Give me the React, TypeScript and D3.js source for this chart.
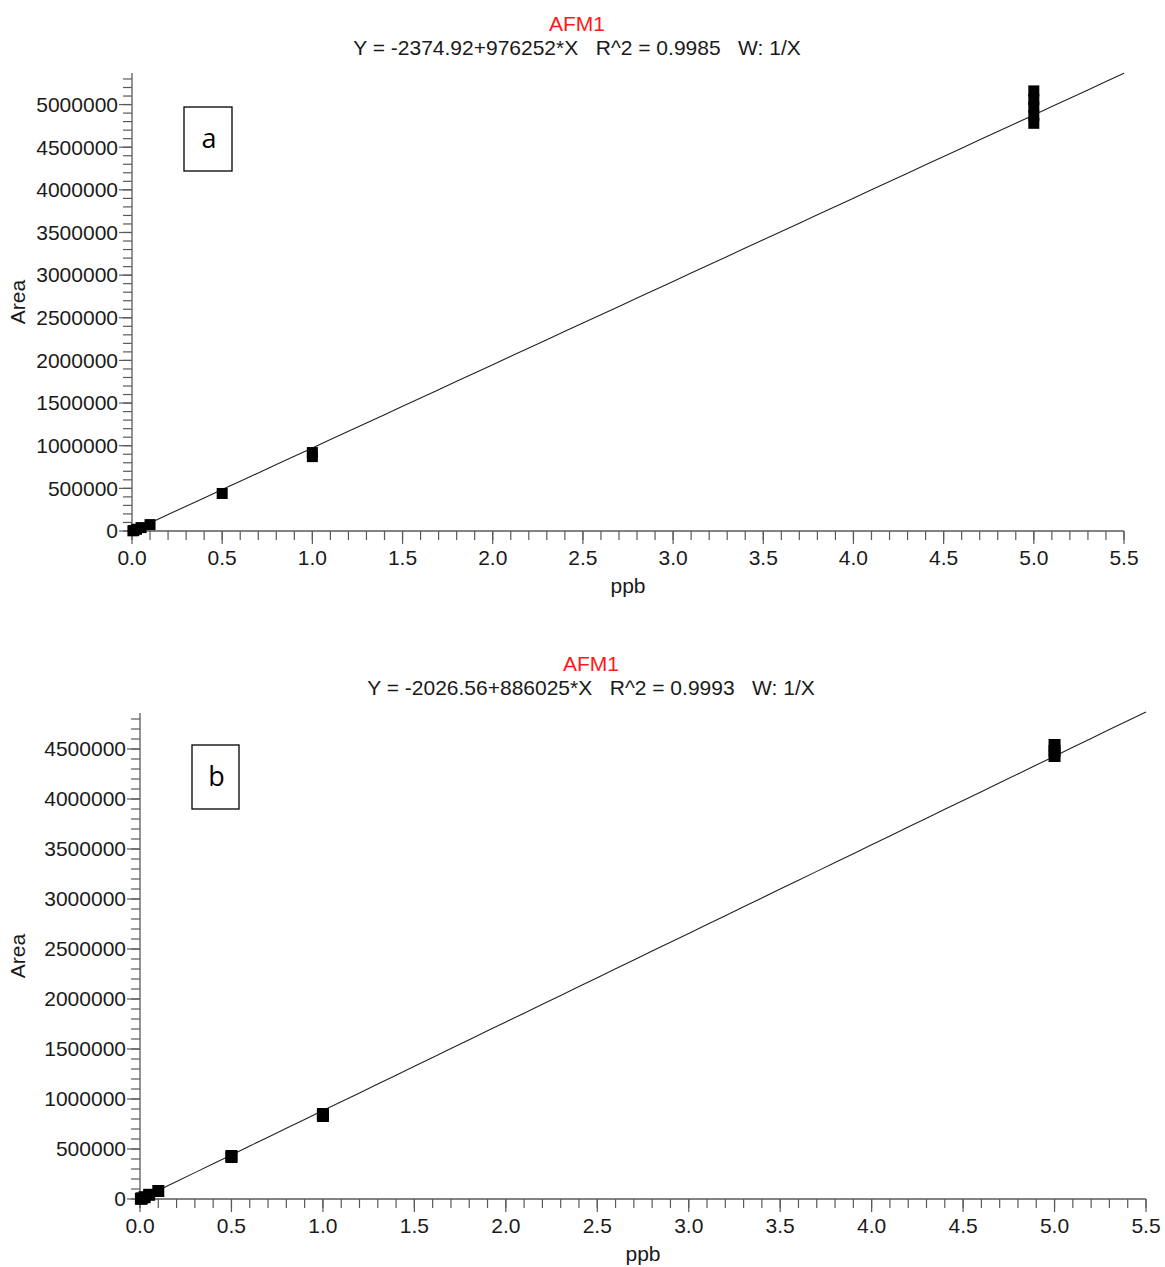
import React from "react";
import * as d3 from "d3";

// calibration points (ppb vs peak area)
const concA = [0.005, 0.01, 0.025, 0.05, 0.1, 0.5, 1.0, 1.0, 5.0, 5.0, 5.0, 5.0, 5.0];
const areaA = [2000, 6000, 20000, 40000, 75000, 440000, 920000, 872000, 5160000, 5060000, 4970000, 4870000, 4780000];

const concB = [0.005, 0.01, 0.025, 0.05, 0.1, 0.5, 0.5, 1.0, 1.0, 5.0, 5.0, 5.0];
const areaB = [2000, 6000, 18000, 42000, 80000, 430000, 420000, 850000, 830000, 4540000, 4480000, 4430000];

// fitted lines
const interceptA = -2374.92;
const slopeA = 976252;
const r2A = "0.9985";
const interceptB = -2026.56;
const slopeB = 886025;
const r2B = "0.9993";

const xMax = 5.5;
const xMajor = 0.5;
const xMinor = 0.1;
const yMajor = 500000;
const yMinor = 100000;

const FONT = "'Liberation Sans', Arial, sans-serif";
const AXIS = "#5a5a5a";

type PanelProps = {
  conc: number[];
  area: number[];
  intercept: number;
  slope: number;
  r2: string;
  tag: string;
  left: number;
  right: number;
  top: number;
  bottom: number;
  yMax: number;
  titleX: number;
  box: { x: number; y: number; w: number; h: number };
  size: number;
};

const Panel = (p: PanelProps) => {
  const x = d3.scaleLinear().domain([0, xMax]).range([p.left, p.right]);
  const y = d3.scaleLinear().domain([0, p.yMax]).range([p.bottom, p.top]);

  const xMajors = d3.range(0, Math.round(xMax / xMajor) + 1).map((i) => i * xMajor);
  const xMinors = d3.range(0, Math.round(xMax / xMinor) + 1).map((i) => i * xMinor);
  const yMajors = d3.range(0, p.yMax, yMajor);
  const yMinors = d3.range(0, p.yMax, yMinor);

  const fit = d3.range(0, 56).map((i) => (i * xMax) / 55);
  const line = d3
    .line<number>()
    .x((d) => x(d))
    .y((d) => y(p.intercept + p.slope * d));

  const eq = `Y = ${p.intercept}+${p.slope}*X   R^2 = ${p.r2}   W: 1/X`;
  const midX = (p.left + p.right) / 2;
  const midY = (p.top + p.bottom) / 2;

  return (
    <g fontFamily={FONT}>
      <text x={p.titleX} y={p.top - 42} textAnchor="middle" fontSize={21} fill="#ff1a1a">
        AFM1
      </text>
      <text x={p.titleX} y={p.top - 18} textAnchor="middle" fontSize={21} fill="#1a1a1a" style={{ whiteSpace: "pre" }}>
        {eq}
      </text>

      {/* y axis */}
      <line x1={p.left} x2={p.left} y1={p.top} y2={p.bottom} stroke={AXIS} strokeWidth={1.3} />
      {yMinors.map((v) => (
        <line key={"ym" + v} x1={p.left - 9} x2={p.left} y1={y(v)} y2={y(v)} stroke={AXIS} strokeWidth={1.2} />
      ))}
      {yMajors.map((v) => (
        <g key={"yM" + v}>
          <line x1={p.left - 13} x2={p.left} y1={y(v)} y2={y(v)} stroke={AXIS} strokeWidth={1.2} />
          <text x={p.left - 14} y={y(v)} dy="0.35em" textAnchor="end" fontSize={21} fill="#1a1a1a">
            {v}
          </text>
        </g>
      ))}

      {/* x axis */}
      <line x1={p.left} x2={p.right} y1={p.bottom} y2={p.bottom} stroke={AXIS} strokeWidth={1.3} />
      {xMinors.map((v, i) => (
        <line key={"xm" + i} x1={x(v)} x2={x(v)} y1={p.bottom} y2={p.bottom + 9} stroke={AXIS} strokeWidth={1.2} />
      ))}
      {xMajors.map((v, i) => (
        <g key={"xM" + i}>
          <line x1={x(v)} x2={x(v)} y1={p.bottom} y2={p.bottom + 13} stroke={AXIS} strokeWidth={1.2} />
          <text x={x(v)} y={p.bottom + 34} textAnchor="middle" fontSize={21} fill="#1a1a1a">
            {v.toFixed(1)}
          </text>
        </g>
      ))}

      <text x={midX} y={p.bottom + 62} textAnchor="middle" fontSize={21} fill="#1a1a1a">
        ppb
      </text>
      <text
        transform={`translate(25,${midY}) rotate(-90)`}
        textAnchor="middle"
        fontSize={21}
        fill="#1a1a1a"
      >
        Area
      </text>

      {/* regression line */}
      <path d={line(fit) ?? ""} fill="none" stroke="#222" strokeWidth={1.1} />

      {/* points */}
      {p.conc.map((c, i) => (
        <rect
          key={"pt" + i}
          x={x(c) - p.size / 2}
          y={y(p.area[i]) - p.size / 2}
          width={p.size}
          height={p.size}
          fill="#000"
        />
      ))}

      {/* panel tag */}
      <rect x={p.box.x} y={p.box.y} width={p.box.w} height={p.box.h} fill="#fff" stroke="#000" strokeWidth={1.3} />
      <text
        x={p.box.x + p.box.w / 2 + 1}
        y={p.box.y + p.box.h / 2 + 9}
        textAnchor="middle"
        fontSize={27}
        fontFamily="'Open Sans', 'Noto Sans', sans-serif"
        fill="#000"
      >
        {p.tag}
      </text>
    </g>
  );
};

export default function App() {
  return (
    <svg
      width={1165}
      height={1267}
      style={{ position: "absolute", left: 0, top: 0, background: "#fff" }}
    >
      <rect width={1165} height={1267} fill="#fff" />
      <Panel
        conc={concA}
        area={areaA}
        intercept={interceptA}
        slope={slopeA}
        r2={r2A}
        tag="a"
        left={132}
        right={1124}
        top={73}
        bottom={531}
        yMax={5370000}
        titleX={577}
        box={{ x: 184, y: 107, w: 48, h: 64 }}
        size={11}
      />
      <Panel
        conc={concB}
        area={areaB}
        intercept={interceptB}
        slope={slopeB}
        r2={r2B}
        tag="b"
        left={140}
        right={1146}
        top={713}
        bottom={1199}
        yMax={4860000}
        titleX={591}
        box={{ x: 192, y: 745, w: 47, h: 64 }}
        size={12}
      />
    </svg>
  );
}
